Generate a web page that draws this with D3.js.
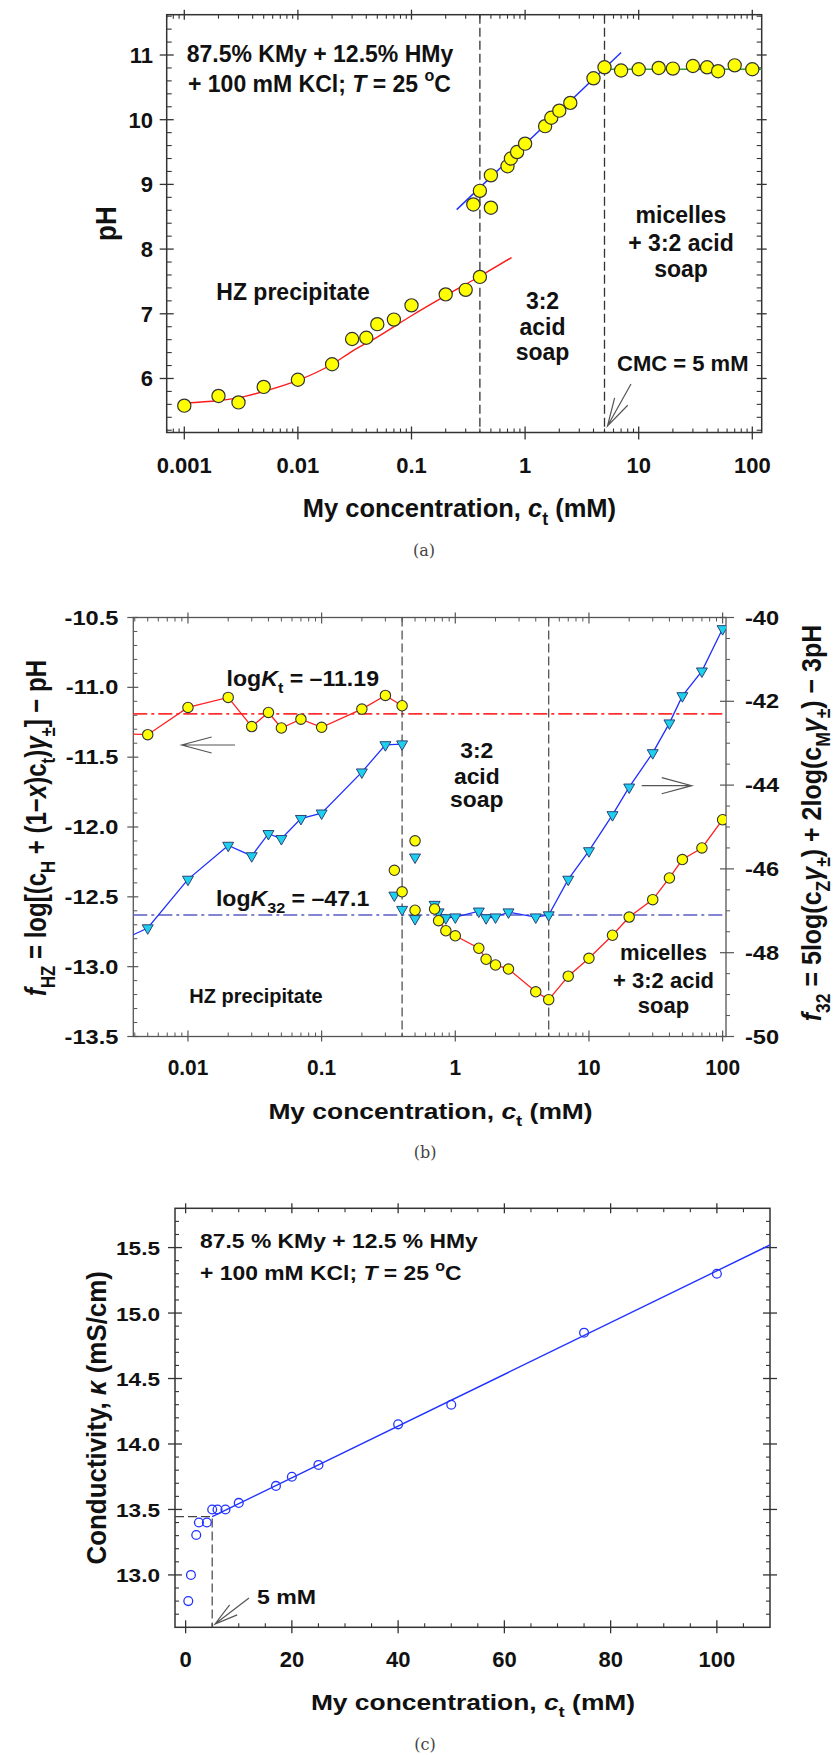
<!DOCTYPE html>
<html><head><meta charset="utf-8">
<script src="https://cdn.jsdelivr.net/npm/d3@7"></script>
<style>body{margin:0;background:#fff}svg{display:block}</style>
</head><body><svg id="chart" width="836" height="1755"></svg>
<script>
// ================= DATA =================
// Panel (a): pH vs concentration
const aTickX=[0.001,0.01,0.1,1,10,100];
const aTickXLabels=['0.001','0.01','0.1','1','10','100'];
const aTickY=[6,7,8,9,10,11];
const aHZconc=[0.001,0.002,0.003,0.005,0.01,0.02,0.03,0.04,0.05,0.07,0.1,0.2,0.3,0.4];
const aHZpH=[5.58,5.73,5.63,5.87,5.98,6.22,6.61,6.63,6.84,6.91,7.13,7.30,7.37,7.57];
const aHZfitConc=[0.001,0.002,0.003,0.005,0.01,0.02,0.03,0.05,0.1,0.2,0.4,0.76];
const aHZfitPH=[5.62,5.66,5.70,5.80,5.97,6.22,6.42,6.64,6.97,7.28,7.58,7.87];
const aASconc=[0.35,0.4,0.5,0.5,0.7,0.75,0.85,1.0,1.5,1.7,2.0,2.5,4.0,5.0];
const aASpH=[8.69,8.90,8.64,9.14,9.28,9.40,9.50,9.63,9.90,10.03,10.14,10.26,10.64,10.81];
const aASfitConc=[0.25,7];
const aASfitPH=[8.61,11.04];
const aMconc=[7,10,15,20,30,40,50,70,100];
const aMpH=[10.76,10.78,10.80,10.79,10.83,10.81,10.75,10.84,10.78];
const aMfitConc=[5,121];
const aMfitPH=[10.78,10.78];
const aBreaks=[0.4,5];

// Panel (b): f_HZ (left) and f_32 (right)
const bTickX=[0.01,0.1,1,10,100];
const bTickXLabels=['0.01','0.1','1','10','100'];
const bTickYL=[-10.5,-11.0,-11.5,-12.0,-12.5,-13.0,-13.5];
const bTickYR=[-40,-42,-44,-46,-48,-50];
const bConc1=[0.003,0.005,0.01,0.02,0.03,0.04,0.05,0.07,0.1,0.2,0.3,0.4];
const bFhz1=[-11.33,-11.339,-11.144,-11.072,-11.281,-11.18,-11.291,-11.228,-11.286,-11.156,-11.058,-11.132];
const bF32a=[-47.74,-47.41,-46.25,-45.44,-45.69,-45.16,-45.28,-44.80,-44.67,-43.69,-43.04,-43.02];
const bConcMid=[0.35,0.4,0.5,0.5];
const bFhzMid=[-12.31,-12.464,-12.099,-12.596];
const bF32Mid=[-46.63,-46.97,-45.72,-47.19];
const bConc2=[0.7,0.75,0.85,1.0,1.5,1.7,2.0,2.5,4.0,5.0,7,10,15,20,30,40,50,70,100];
const bFhz2=[-12.587,-12.671,-12.743,-12.779,-12.868,-12.947,-12.988,-13.017,-13.18,-13.236,-13.068,-12.94,-12.775,-12.645,-12.52,-12.365,-12.233,-12.15,-11.948];
const bF32b=[-46.85,-47.03,-47.17,-47.15,-47.01,-47.17,-47.15,-47.03,-47.15,-47.10,-46.25,-45.57,-44.71,-44.05,-43.23,-42.52,-41.87,-41.28,-40.27];
const bLogKt=-11.19;
const bLogK32=-47.1;
const bBreaks=[0.4,5];

// Panel (c): conductivity
const cTickX=[0,20,40,60,80,100];
const cTickY=[13.0,13.5,14.0,14.5,15.0,15.5];
const cConc=[0.5,1,2,2.5,4,5,6,7.5,10,17,20,25,40,50,75,100];
const cKappa=[12.80,13.00,13.305,13.40,13.40,13.50,13.50,13.50,13.55,13.68,13.75,13.84,14.15,14.30,14.85,15.30];
const cFitConc=[5,110];
const cFitKappa=[13.445,15.52];
const cCMC=5, cCMCkappa=13.445;

// ================= HELPERS =================
const FONT='"Liberation Sans", Arial, Helvetica, sans-serif';
const svg=d3.select('#chart');

function rich(g,x,y,parts,o={}){
  const size=o.size||20, sx=o.sx||1, sy=o.sy||1, rot=o.rot||0;
  const t=g.append('text')
    .attr('transform',`translate(${x},${y}) rotate(${rot}) scale(${sx},${sy})`)
    .attr('text-anchor',o.anchor||'start')
    .attr('fill',o.fill||'#111')
    .style('font-size',size+'px')
    .style('font-family',o.family||FONT)
    .style('font-weight',o.weight||'bold');
  if(typeof parts==='string') parts=[parts];
  let shift=0;
  parts.forEach(p=>{
    if(typeof p==='string') p={t:p};
    const target=p.sub?size*0.32:(p.sup?-size*0.45:0);
    const ts=t.append('tspan').text(p.t);
    if(target!==shift){ts.attr('dy',target-shift);shift=target;}
    if(p.sub||p.sup) ts.style('font-size',(size*0.7)+'px');
    if(p.it) ts.style('font-style','italic');
    if(p.w) ts.style('font-weight',p.w);
  });
  return t;
}
function ticks(g,scale,vals,orient,pos,inL,outL,color,sw){
  g.selectAll(null).data(vals).join('line')
    .attr('x1',v=>orient==='bottom'||orient==='top'?scale(v):(orient==='left'?pos-outL:pos-inL))
    .attr('x2',v=>orient==='bottom'||orient==='top'?scale(v):(orient==='left'?pos+inL:pos+outL))
    .attr('y1',v=>orient==='left'||orient==='right'?scale(v):(orient==='bottom'?pos-inL:pos-outL))
    .attr('y2',v=>orient==='left'||orient==='right'?scale(v):(orient==='bottom'?pos+outL:pos+inL))
    .attr('stroke',color).attr('stroke-width',sw);
}
function arrow(g,x1,y1,x2,y2,len,color){
  const a=Math.atan2(y1-y2,x1-x2), d=15*Math.PI/180;
  const p=`M${x1},${y1}L${x2},${y2}M${x2+len*Math.cos(a+d)},${y2+len*Math.sin(a+d)}L${x2},${y2}L${x2+len*Math.cos(a-d)},${y2+len*Math.sin(a-d)}`;
  g.append('path').attr('d',p).attr('fill','none').attr('stroke',color).attr('stroke-width',1.2);
}
const isDecade=v=>Math.abs(Math.log10(v)-Math.round(Math.log10(v)))<1e-6;
const zip=(a,b)=>a.map((v,i)=>[v,b[i]]);
const capFont={size:16,anchor:'middle',family:'"DejaVu Serif","Liberation Serif",serif',weight:'normal',fill:'#444'};

// ================= PANEL (a) =================
{
const g=svg.append('g');
const L=166.7,R=761.7,T=14.7,B=432.5;
const x=d3.scaleLog().domain([0.0007,121]).range([L,R]);
const y=d3.scaleLinear().domain([5.165,11.623]).range([B,T]);
const frame='#333';
const all=x.ticks().filter(v=>v>=0.0007&&v<=121);
const minors=all.filter(v=>!isDecade(v));
ticks(g,x,aTickX,'bottom',B,6,7,frame,1.3);
ticks(g,x,minors,'bottom',B,4,0,frame,1.1);
ticks(g,x,aTickX,'top',T,5,5,frame,1.3);
ticks(g,x,minors,'top',T,4,0,frame,1.1);
const yMin=d3.range(26,59).map(i=>+(i*0.2).toFixed(1)).filter(v=>Math.abs(v-Math.round(v))>1e-6);
ticks(g,y,aTickY,'left',L,7,7,frame,1.3);
ticks(g,y,yMin,'left',L,5,0,frame,1.1);
ticks(g,y,aTickY,'right',R,5,5,frame,1.3);
ticks(g,y,yMin,'right',R,5,0,frame,1.1);
g.append('rect').attr('x',L).attr('y',T).attr('width',R-L).attr('height',B-T).attr('fill','none').attr('stroke',frame).attr('stroke-width',1.5);

aTickX.forEach((v,i)=>rich(g,x(v),472.5,aTickXLabels[i],{size:22,anchor:'middle'}));
aTickY.forEach(v=>rich(g,153,y(v)+8,String(v),{size:22,anchor:'end'}));
rich(g,302.7,516.5,['My concentration, ',{t:'c',it:1},{t:'t',sub:1},' (mM)'],{size:25.5});
rich(g,116,(T+B)/2,'pH',{size:26,anchor:'middle',rot:-90,sy:1.1});

g.selectAll(null).data(aBreaks).join('line')
  .attr('x1',d=>x(d)).attr('x2',d=>x(d)).attr('y1',T).attr('y2',B)
  .attr('stroke','#333').attr('stroke-width',1.3).attr('stroke-dasharray','9,4');

const line=d3.line().x(d=>x(d[0])).y(d=>y(d[1]));
g.append('path').attr('d',line.curve(d3.curveMonotoneX)(zip(aHZfitConc,aHZfitPH))).attr('fill','none').attr('stroke','#ff1a1a').attr('stroke-width',1.4);
g.append('path').attr('d',d3.line().x(d=>x(d[0])).y(d=>y(d[1]))(zip(aASfitConc,aASfitPH))).attr('fill','none').attr('stroke','#1f2fff').attr('stroke-width',1.4);
g.append('path').attr('d',d3.line().x(d=>x(d[0])).y(d=>y(d[1]))(zip(aMfitConc,aMfitPH))).attr('fill','none').attr('stroke','#2e9b2e').attr('stroke-width',1.6);

const pts=[...zip(aHZconc,aHZpH),...zip(aASconc,aASpH),...zip(aMconc,aMpH)];
g.selectAll(null).data(pts).join('circle')
  .attr('cx',d=>x(d[0])).attr('cy',d=>y(d[1])).attr('r',6.6)
  .attr('fill','#ffff00').attr('stroke','#333').attr('stroke-width',1.2);

rich(g,186.7,61.7,'87.5% KMy + 12.5% HMy',{size:23});
rich(g,188,91.7,['+ 100 mM KCl; ',{t:'T',it:1},' = 25 ',{t:'o',sup:1},'C'],{size:23});
rich(g,293,300,'HZ precipitate',{size:23,anchor:'middle'});
rich(g,542.5,308.6,'3:2',{size:23,anchor:'middle'});
rich(g,542.5,334.5,'acid',{size:23,anchor:'middle'});
rich(g,542.5,359.7,'soap',{size:23,anchor:'middle'});
rich(g,681,222.6,'micelles',{size:23,anchor:'middle'});
rich(g,681,251,'+ 3:2 acid',{size:23,anchor:'middle'});
rich(g,681,277,'soap',{size:23,anchor:'middle'});
rich(g,682.8,371.4,'CMC = 5 mM',{size:22,anchor:'middle'});
arrow(g,631,384,607.5,426,29,'#555');
rich(g,424,556,'(a)',capFont);
}

// ================= PANEL (b) =================
{
const g=svg.append('g');
const L=133.3,R=726,T=617.5,B=1036.5;
const x=d3.scaleLog().domain([0.0039,106]).range([L,R]);
const yl=d3.scaleLinear().domain([-13.5,-10.5]).range([B,T]);
const yr=d3.scaleLinear().domain([-50,-40]).range([B,T]);
const frame='#555';
svg.append('defs').append('clipPath').attr('id','clipb').append('rect').attr('x',L).attr('y',T).attr('width',R-L).attr('height',B-T);
const all=x.ticks().filter(v=>v>=0.0039&&v<=106);
const minors=all.filter(v=>!isDecade(v));
ticks(g,x,bTickX,'bottom',B,6,5,frame,1.2);
ticks(g,x,minors,'bottom',B,4,0,frame,1);
ticks(g,x,bTickX,'top',T,6,5,frame,1.2);
ticks(g,x,minors,'top',T,4,0,frame,1);
const ylMin=d3.range(106,135).map(i=>-i/10).filter(v=>Math.abs(v*2-Math.round(v*2))>1e-6);
ticks(g,yl,bTickYL,'left',L,5,6,frame,1.2);
ticks(g,yl,ylMin,'left',L,4,0,frame,1);
const yrMin=d3.range(81,100).map(i=>-i/2).filter(v=>Math.abs(v/2-Math.round(v/2))>1e-6);
ticks(g,yr,bTickYR,'right',R,6,8,frame,1.2);
ticks(g,yr,yrMin,'right',R,0,4,frame,1);
g.append('rect').attr('x',L).attr('y',T).attr('width',R-L).attr('height',B-T).attr('fill','none').attr('stroke',frame).attr('stroke-width',1.3);

bTickX.forEach((v,i)=>rich(g,x(v),1075,bTickXLabels[i],{size:22,anchor:'middle',sx:0.95}));
bTickYL.forEach(v=>rich(g,118.3,yl(v)+7,v.toFixed(1),{size:20,anchor:'end',sx:1.18}));
bTickYR.forEach(v=>rich(g,745,yr(v)+7,String(v),{size:20,anchor:'start',sx:1.18}));
rich(g,(268+593)/2,1119,['My concentration, ',{t:'c',it:1},{t:'t',sub:1},' (mM)'],{size:22,anchor:'middle',sx:1.2});
rich(g,46,828,[{t:'f',it:1},{t:'HZ',sub:1},' = log[(c',{t:'H',sub:1},' + (1\u2212',{t:'x',it:1},')c',{t:'t',sub:1},')',{t:'\u03b3',it:1},{t:'\u00b1',sub:1},'] \u2212 pH'],{size:24,anchor:'middle',rot:-90,sy:1.2});
rich(g,821,823,[{t:'f',it:1},{t:'32',sub:1},' = 5log(c',{t:'Z',sub:1},{t:'\u03b3',it:1},{t:'\u00b1',sub:1},') + 2log(c',{t:'M',sub:1},{t:'\u03b3',it:1},{t:'\u00b1',sub:1},') \u2212 3pH'],{size:25,anchor:'middle',rot:-90,sy:1.12});

const cg=g.append('g').attr('clip-path','url(#clipb)');
cg.append('line').attr('x1',L).attr('x2',R).attr('y1',yl(bLogKt)).attr('y2',yl(bLogKt))
  .attr('stroke','#ff3030').attr('stroke-width',1.6).attr('stroke-dasharray','14,4,3,4');
cg.append('line').attr('x1',L).attr('x2',R).attr('y1',yr(bLogK32)).attr('y2',yr(bLogK32))
  .attr('stroke','#5c5cc8').attr('stroke-width',1.6).attr('stroke-dasharray','14,4,3,4');
cg.selectAll(null).data(bBreaks).join('line')
  .attr('x1',d=>x(d)).attr('x2',d=>x(d)).attr('y1',T).attr('y2',B)
  .attr('stroke','#444').attr('stroke-width',1.2).attr('stroke-dasharray','9,4');

const lL=d3.line().x(d=>x(d[0])).y(d=>yl(d[1]));
const lR=d3.line().x(d=>x(d[0])).y(d=>yr(d[1]));
cg.append('path').attr('d',lR(zip(bConc1,bF32a))).attr('fill','none').attr('stroke','#1f2fff').attr('stroke-width',1.3);
cg.append('path').attr('d',lR(zip(bConc2,bF32b))).attr('fill','none').attr('stroke','#1f2fff').attr('stroke-width',1.3);
cg.append('path').attr('d',lL(zip(bConc1,bFhz1))).attr('fill','none').attr('stroke','#ff2020').attr('stroke-width',1.3);
cg.append('path').attr('d',lL(zip(bConc2,bFhz2))).attr('fill','none').attr('stroke','#ff2020').attr('stroke-width',1.3);

const tri=d3.symbol().type(d3.symbolTriangle).size(52);
const triPts=[...zip(bConc1,bF32a),...zip(bConcMid,bF32Mid),...zip(bConc2,bF32b)];
cg.selectAll(null).data(triPts).join('path').attr('d',tri)
  .attr('transform',d=>`translate(${x(d[0])},${yr(d[1])}) rotate(180)`)
  .attr('fill','#1fd0ee').attr('stroke','#2b4478').attr('stroke-width',1);
const cirPts=[...zip(bConc1,bFhz1),...zip(bConcMid,bFhzMid),...zip(bConc2,bFhz2)];
cg.selectAll(null).data(cirPts).join('circle')
  .attr('cx',d=>x(d[0])).attr('cy',d=>yl(d[1])).attr('r',5.2)
  .attr('fill','#ffff00').attr('stroke','#333').attr('stroke-width',1.1);

rich(g,226.6,685.5,['log',{t:'K',it:1},{t:'t',sub:1},' = \u201311.19'],{size:22,sx:1.05});
rich(g,215.9,905.6,['log',{t:'K',it:1},{t:'32',sub:1},' = \u201347.1'],{size:22,sx:1.05});
rich(g,476.8,757.5,'3:2',{size:22,anchor:'middle',sx:1.04});
rich(g,476.8,783.7,'acid',{size:22,anchor:'middle',sx:1.04});
rich(g,476.8,807.2,'soap',{size:22,anchor:'middle',sx:1.04});
rich(g,189.3,1003.3,'HZ precipitate',{size:20});
rich(g,663.5,960,'micelles',{size:22,anchor:'middle'});
rich(g,663.5,988.3,'+ 3:2 acid',{size:22,anchor:'middle'});
rich(g,663.5,1013.3,'soap',{size:22,anchor:'middle'});
arrow(g,235,745,181.7,745,31,'#555');
arrow(g,641.7,785.7,691.7,785.7,31,'#555');
rich(g,425,1158,'(b)',capFont);
}

// ================= PANEL (c) =================
{
const g=svg.append('g');
const L=175,R=770,T=1208.3,B=1627.3;
const x=d3.scaleLinear().domain([-2,110]).range([L,R]);
const y=d3.scaleLinear().domain([12.6,15.8]).range([B,T]);
const frame='#333';
const xMin=d3.range(1,22).map(i=>i*5).filter(v=>v%20!==0);
ticks(g,x,cTickX,'bottom',B,7,6,frame,1.3);
ticks(g,x,xMin,'bottom',B,4,0,frame,1.1);
ticks(g,x,cTickX,'top',T,5,5,frame,1.3);
ticks(g,x,xMin,'top',T,4,0,frame,1.1);
const yMin=d3.range(127,158).map(i=>i/10).filter(v=>Math.abs(v*2-Math.round(v*2))>1e-6);
ticks(g,y,cTickY,'left',L,7,7,frame,1.3);
ticks(g,y,yMin,'left',L,4,0,frame,1.1);
ticks(g,y,cTickY,'right',R,7,7,frame,1.3);
ticks(g,y,yMin,'right',R,4,0,frame,1.1);
g.append('rect').attr('x',L).attr('y',T).attr('width',R-L).attr('height',B-T).attr('fill','none').attr('stroke',frame).attr('stroke-width',1.5);

cTickX.forEach(v=>rich(g,x(v),1666.7,String(v),{size:22,anchor:'middle'}));
cTickY.forEach(v=>rich(g,160,y(v)+7.5,v.toFixed(1),{size:19,anchor:'end',sx:1.19}));
rich(g,(304+642)/2,1710,['My concentration,  ',{t:'c',it:1},{t:'t',sub:1},'  (mM)'],{size:22,anchor:'middle',sx:1.2});
rich(g,106,(T+B)/2,['Conductivity, ',{t:'\u03ba',it:1},' (mS/cm)'],{size:24,anchor:'middle',rot:-90,sx:1.08,sy:1.15});

g.append('path').attr('d',d3.line().x(d=>x(d[0])).y(d=>y(d[1]))([[-2,cCMCkappa],[cCMC,cCMCkappa],[cCMC,12.6]]))
  .attr('fill','none').attr('stroke','#444').attr('stroke-width',1.2).attr('stroke-dasharray','9,4');
g.append('path').attr('d',d3.line().x(d=>x(d[0])).y(d=>y(d[1]))(zip(cFitConc,cFitKappa)))
  .attr('fill','none').attr('stroke','#2233ff').attr('stroke-width',1.4);
g.selectAll(null).data(zip(cConc,cKappa)).join('circle')
  .attr('cx',d=>x(d[0])).attr('cy',d=>y(d[1])).attr('r',4.4)
  .attr('fill','none').attr('stroke','#2233ff').attr('stroke-width',1.3);

rich(g,200,1248.3,'87.5 % KMy + 12.5 % HMy',{size:21,sx:1.09});
rich(g,200,1280,['+ 100 mM KCl;  ',{t:'T',it:1},' = 25 ',{t:'o',sup:1},'C'],{size:21,sx:1.09});
rich(g,257,1604,'5 mM',{size:21,sx:1.1});
arrow(g,249,1598,215,1624,24,'#555');
rich(g,425,1750,'(c)',capFont);
}
</script></body></html>
